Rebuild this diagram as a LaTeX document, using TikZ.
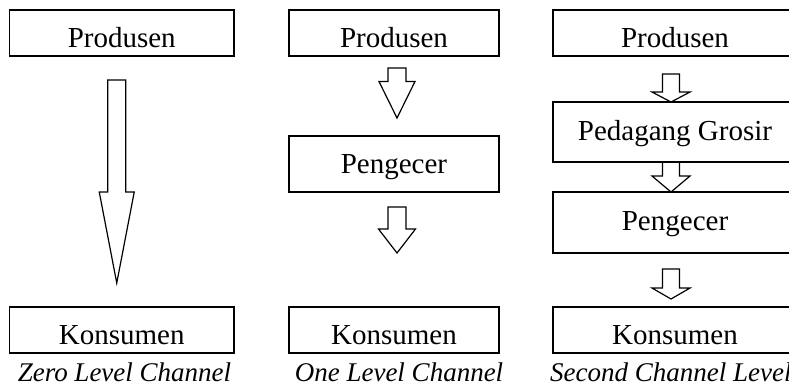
\documentclass[tikz,border=0pt]{standalone}
\usepackage{fontspec}
\setmainfont{Liberation Serif}
\usetikzlibrary{calc}

\begin{document}
\begin{tikzpicture}[x = 1pt, y = -1pt,
    endbox/.style = {draw, line width = 1.8pt, inner sep = 0pt, outer sep = 0pt, anchor = north,
        text height = 37pt, text depth = 9pt, font = \fontsize{29pt}{34pt}\selectfont},
    midbox/.style = {endbox, text height = 38pt, text depth = 20pt},
    caption/.style = {inner sep = 0pt, anchor = base, font = \fontsize{27pt}{32pt}\selectfont\itshape},
    blockarrow/.style n args = {3}{line width = 1.2pt, to path = {let \p1 = (\tikztostart), \p2 = (\tikztotarget) in
        (\x1-#1,\y1) -- (\x1+#1,\y1) -- (\x1+#1,\y2+#3) -- (\x1+#2,\y2+#3) -- (\x1,\y2)
        -- (\x1-#2,\y2+#3) -- (\x1-#1,\y2+#3) -- cycle}}]
    \useasboundingbox (0,0) rectangle (789,389);

    % zero level channel
    \node[endbox, minimum width = 224.5pt] (prod1) at (121.75,10) {Produsen};
    \node[endbox, minimum width = 224.5pt] (kons1) at (121.75,307) {Konsumen};
    \node[caption] (cap1) at (124.5,381) {Zero Level Channel};

    % one level channel
    \node[endbox, minimum width = 210pt] (prod2) at (394,10) {Produsen};
    \node[midbox, minimum width = 210pt, text height = 37pt, text depth = 19pt] (peng2) at (394,136) {Pengecer};
    \node[endbox, minimum width = 210pt] (kons2) at (394,307) {Konsumen};
    \node[caption] (cap2) at (399,381) {One Level Channel};

    % second channel level
    \node[endbox, minimum width = 244pt] (prod3) at (675,10) {Produsen};
    \node[midbox, minimum width = 244pt, text depth = 22pt] (ped3) at (675,102) {Pedagang Grosir};
    \node[midbox, minimum width = 244pt, text depth = 23pt] (peng3) at (675,192) {Pengecer};
    \node[endbox, minimum width = 244pt] (kons3) at (675,307) {Konsumen};
    \node[caption, anchor = base west] (cap3) at (550,381) {Second Channel Level};

    % arrow ends
    \coordinate (a1s) at ([xshift = -5pt, yshift = -24pt]prod1.south);
    \coordinate (a1e) at ([xshift = -5pt, yshift = 24pt]kons1.north);
    \coordinate (a2s) at ([xshift = 3pt, yshift = -12pt]prod2.south);
    \coordinate (a2e) at ([xshift = 3pt, yshift = 18pt]peng2.north);
    \coordinate (a3s) at ([xshift = 3pt, yshift = -15pt]peng2.south);
    \coordinate (a3e) at ([xshift = 3pt, yshift = 54pt]kons2.north);
    \coordinate (a4s) at ([xshift = -4pt, yshift = -18pt]prod3.south);
    \coordinate (a4e) at ([xshift = -4pt]ped3.north);
    \coordinate (a5s) at ([xshift = -4pt]ped3.south);
    \coordinate (a5e) at ([xshift = -4pt]peng3.north);
    \coordinate (a6s) at ([xshift = -4pt, yshift = -16pt]peng3.south);
    \coordinate (a6e) at ([xshift = -4pt, yshift = 8pt]kons3.north);

    \draw[blockarrow = {9pt}{17.5pt}{91pt}] (a1s) to (a1e);
    \draw[blockarrow = {9pt}{18pt}{36.5pt}] (a2s) to (a2e);
    \draw[blockarrow = {9pt}{18.5pt}{24pt}] (a3s) to (a3e);
    \draw[blockarrow = {8.5pt}{19pt}{10pt}] (a4s) to (a4e);
    \draw[blockarrow = {8.5pt}{19pt}{16pt}] (a5s) to (a5e);
    \draw[blockarrow = {8.5pt}{19pt}{11pt}] (a6s) to (a6e);
\end{tikzpicture}
\end{document}
